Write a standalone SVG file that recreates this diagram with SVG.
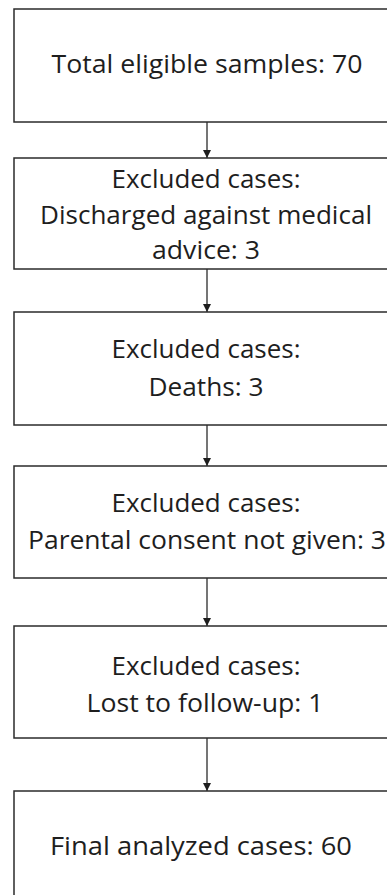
<svg xmlns="http://www.w3.org/2000/svg" width="387" height="895" viewBox="0 0 387 895">
<style>
.box{fill:#fff;stroke:#2b2b2b;stroke-width:1.5}
.t{font-family:"Open Sans","Noto Sans",sans-serif;font-size:26px;fill:#1e1e1e;text-anchor:middle}
.c{stroke:#2b2b2b;stroke-width:1.3;fill:none}
</style>
<defs>
<marker id="ah" viewBox="0 0 10 10" refX="10" refY="5" markerUnits="userSpaceOnUse" markerWidth="8" markerHeight="8" orient="auto">
<path d="M0,0 L10,5 L0,10 Z" fill="#1e1e1e"/>
</marker>
</defs>
<rect width="387" height="895" fill="#fff"/>
<g id="connectors">
<line class="c" x1="207" y1="122" x2="207" y2="158" marker-end="url(#ah)"/>
<line class="c" x1="207" y1="269" x2="207" y2="312" marker-end="url(#ah)"/>
<line class="c" x1="207" y1="425" x2="207" y2="466" marker-end="url(#ah)"/>
<line class="c" x1="207" y1="578" x2="207" y2="626" marker-end="url(#ah)"/>
<line class="c" x1="207" y1="738" x2="207" y2="791" marker-end="url(#ah)"/>
</g>
<g id="n1"><rect class="box" x="14" y="9" width="386" height="113"/>
<text class="t" x="207" y="73" textLength="311" lengthAdjust="spacingAndGlyphs">Total eligible samples: 70</text></g>
<g id="n2"><rect class="box" x="14" y="158" width="386" height="111"/>
<text class="t" x="206" y="188" textLength="189" lengthAdjust="spacingAndGlyphs">Excluded cases:</text>
<text class="t" x="206" y="224" textLength="332" lengthAdjust="spacingAndGlyphs">Discharged against medical</text>
<text class="t" x="206" y="259" textLength="108" lengthAdjust="spacingAndGlyphs">advice: 3</text></g>
<g id="n3"><rect class="box" x="14" y="312" width="386" height="113"/>
<text class="t" x="206" y="358" textLength="189" lengthAdjust="spacingAndGlyphs">Excluded cases:</text>
<text class="t" x="206" y="396" textLength="115" lengthAdjust="spacingAndGlyphs">Deaths: 3</text></g>
<g id="n4"><rect class="box" x="14" y="466" width="386" height="112"/>
<text class="t" x="206" y="512" textLength="189" lengthAdjust="spacingAndGlyphs">Excluded cases:</text>
<text class="t" x="207" y="549" textLength="358" lengthAdjust="spacingAndGlyphs">Parental consent not given: 3</text></g>
<g id="n5"><rect class="box" x="14" y="626" width="386" height="112"/>
<text class="t" x="206" y="675" textLength="189" lengthAdjust="spacingAndGlyphs">Excluded cases:</text>
<text class="t" x="205" y="712" textLength="237" lengthAdjust="spacingAndGlyphs">Lost to follow-up: 1</text></g>
<g id="n6"><rect class="box" x="14" y="791" width="386" height="120"/>
<text class="t" x="201" y="855" textLength="302" lengthAdjust="spacingAndGlyphs">Final analyzed cases: 60</text></g>
</svg>
